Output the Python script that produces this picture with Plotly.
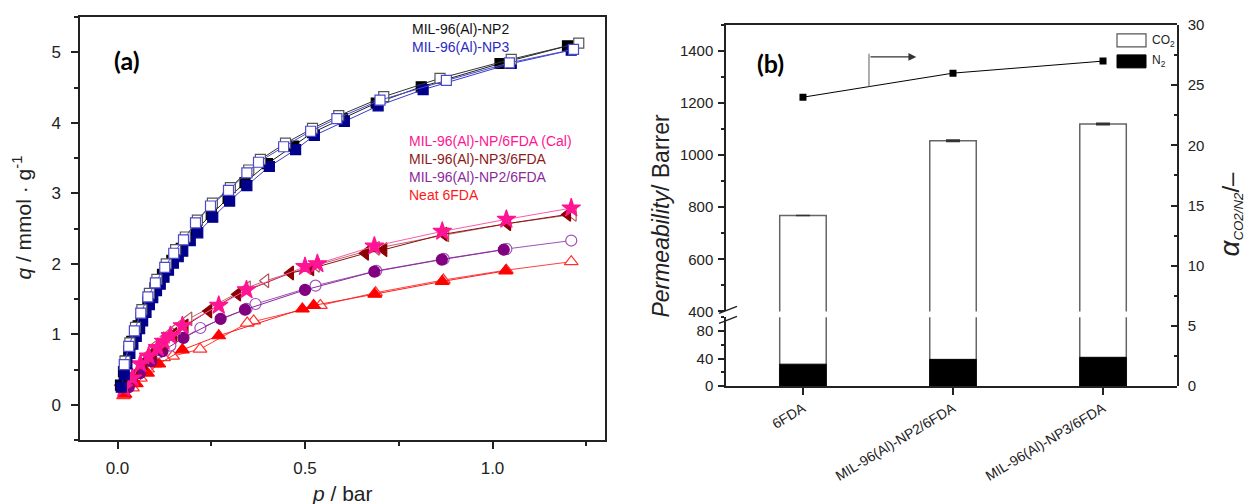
import plotly.graph_objects as go

# ---------------- (a) CO2 sorption isotherms ----------------
np2_ads_p = [0.008, 0.016, 0.022, 0.03, 0.038, 0.046, 0.055, 0.063, 0.072, 0.081, 0.09, 0.1, 0.11, 0.12,
             0.132, 0.145, 0.158, 0.17, 0.19, 0.21, 0.25, 0.295, 0.34, 0.40, 0.47, 0.52, 0.60, 0.69, 0.81, 1.02, 1.2]
np2_ads_q = [0.28, 0.47, 0.62, 0.77, 0.9, 1.01, 1.12, 1.23, 1.35, 1.46, 1.56, 1.66, 1.75, 1.85,
             1.95, 2.05, 2.14, 2.22, 2.37, 2.48, 2.7, 2.93, 3.15, 3.42, 3.67, 3.86, 4.06, 4.28, 4.51, 4.84, 5.09]
np2_des_p = [1.23, 1.05, 0.86, 0.71, 0.59, 0.52, 0.448, 0.381, 0.35, 0.301, 0.253, 0.213, 0.181, 0.155,
             0.13, 0.105, 0.085, 0.065, 0.048, 0.033, 0.02]
np2_des_q = [5.13, 4.9, 4.63, 4.37, 4.1, 3.92, 3.71, 3.48, 3.33, 3.08, 2.86, 2.62, 2.38, 2.2,
             2.0, 1.78, 1.58, 1.35, 1.1, 0.88, 0.62]

np3_ads_p = [0.01, 0.018, 0.025, 0.033, 0.041, 0.05, 0.059, 0.067, 0.076, 0.085, 0.094, 0.104, 0.114, 0.124,
             0.136, 0.149, 0.162, 0.174, 0.194, 0.214, 0.254, 0.299, 0.345, 0.405, 0.475, 0.525, 0.605, 0.695, 0.815, 1.05, 1.21]
np3_ads_q = [0.25, 0.43, 0.58, 0.73, 0.86, 0.97, 1.08, 1.19, 1.31, 1.42, 1.52, 1.62, 1.71, 1.81,
             1.91, 2.01, 2.1, 2.18, 2.33, 2.44, 2.66, 2.89, 3.11, 3.38, 3.62, 3.82, 4.02, 4.24, 4.47, 4.84, 5.03]
np3_des_p = [1.216, 1.045, 0.877, 0.70, 0.585, 0.515, 0.443, 0.376, 0.345, 0.296, 0.248, 0.208, 0.176, 0.15,
             0.126, 0.101, 0.081, 0.062, 0.045, 0.03, 0.018]
np3_des_q = [5.04, 4.85, 4.6, 4.32, 4.06, 3.88, 3.66, 3.44, 3.29, 3.04, 2.82, 2.58, 2.34, 2.15,
             1.95, 1.73, 1.53, 1.3, 1.05, 0.83, 0.57]

cal_p = [0.016, 0.04, 0.061, 0.083, 0.107, 0.123, 0.141, 0.173, 0.27, 0.344, 0.50, 0.533, 0.685, 0.866, 1.037, 1.21]
cal_q = [0.24, 0.38, 0.58, 0.69, 0.81, 0.9, 0.98, 1.12, 1.41, 1.63, 1.96, 2.0, 2.25, 2.46, 2.63, 2.79]

np3mmm_ads_p = [0.02, 0.045, 0.07, 0.095, 0.12, 0.15, 0.18, 0.243, 0.32, 0.461, 0.515, 0.661, 0.71, 0.87, 1.04, 1.2]
np3mmm_ads_q = [0.26, 0.43, 0.6, 0.74, 0.87, 1.0, 1.12, 1.33, 1.57, 1.87, 1.93, 2.15, 2.2, 2.42, 2.57, 2.7]
np3mmm_des_p = [1.215, 1.04, 0.875, 0.69, 0.53, 0.395, 0.346, 0.19, 0.16, 0.13, 0.1, 0.075]
np3mmm_des_q = [2.7, 2.57, 2.41, 2.22, 1.98, 1.76, 1.66, 1.22, 1.1, 0.97, 0.83, 0.68]

np2mmm_ads_p = [0.03, 0.06, 0.09, 0.12, 0.176, 0.275, 0.34, 0.50, 0.685, 0.865, 1.03]
np2mmm_ads_q = [0.25, 0.45, 0.62, 0.76, 0.95, 1.22, 1.35, 1.63, 1.89, 2.06, 2.2]
np2mmm_des_p = [1.21, 1.037, 0.87, 0.69, 0.528, 0.368, 0.344, 0.221, 0.141, 0.11, 0.08]
np2mmm_des_q = [2.33, 2.21, 2.07, 1.9, 1.69, 1.43, 1.36, 1.09, 0.84, 0.74, 0.62]

neat_ads_p = [0.02, 0.05, 0.08, 0.11, 0.173, 0.27, 0.493, 0.523, 0.686, 0.866, 1.035]
neat_ads_q = [0.15, 0.3, 0.45, 0.58, 0.78, 0.98, 1.36, 1.41, 1.57, 1.75, 1.9]
neat_des_p = [1.21, 1.037, 0.869, 0.688, 0.541, 0.363, 0.346, 0.22, 0.147, 0.123, 0.1, 0.08, 0.061, 0.04, 0.016]
neat_des_q = [2.03, 1.91, 1.77, 1.59, 1.41, 1.19, 1.16, 0.79, 0.69, 0.67, 0.58, 0.51, 0.38, 0.24, 0.13]

# ---------------- (b) single-gas permeation ----------------
membranes = ["6FDA", "MIL-96(Al)-NP2/6FDA", "MIL-96(Al)-NP3/6FDA"]
co2_perm = [768, 1055, 1120]
co2_err = [0, 3, 3]
n2_perm = [32, 39, 42]
selectivity = [24, 26, 27]

# broken permeability axis: lower and upper segments
lower_range = [0, 100]
upper_range = [400, 1500]

FONT = "Liberation Sans, Arial, sans-serif"
W, H = 1251, 504
# the drawing area is laid out in page pixels; vertical placement uses the
# space actually given to the graph (top offset and usable height)
TOP, USABLE_H = 8, 488


def px(x):
    return x / W


def py(y):
    return 1 - (y - TOP) / USABLE_H


fig = go.Figure()


def iso(p, q, symbol, fill, edge, line, size=10, lw=1.0):
    fig.add_trace(go.Scatter(
        x=p, y=q, mode="lines+markers", xaxis="x", yaxis="y",
        line=dict(color=line, width=lw),
        marker=dict(symbol=symbol, size=size, color=fill, line=dict(color=edge, width=1.2)),
        hoverinfo="skip", showlegend=False))


# 6FDA-based membranes
iso(neat_des_p, neat_des_q, "triangle-up", "white", "#FF3030", "#FF4040", 12)
iso(neat_ads_p, neat_ads_q, "triangle-up", "#FF0000", "#FF0000", "#FF2020", 12)
iso(np2mmm_des_p, np2mmm_des_q, "circle", "white", "#A050B8", "#A050B8", 11)
iso(np2mmm_ads_p, np2mmm_ads_q, "circle", "#800080", "#800080", "#8B2B9B", 11)
iso(np3mmm_des_p, np3mmm_des_q, "triangle-left", "white", "#B05A5A", "#B86A6A", 12)
iso(np3mmm_ads_p, np3mmm_ads_q, "triangle-left", "#8B0000", "#8B0000", "#8B1010", 12)
iso(cal_p, cal_q, "star", "#FF1493", "#FF1493", "#FF5AAA", 14)
# MIL-96(Al) particles
iso(np2_ads_p, np2_ads_q, "square", "#000000", "#000000", "#222222", 10)
iso(np3_ads_p, np3_ads_q, "square", "#00008B", "#00008B", "#3A3ACC", 10)
iso(np2_des_p, np2_des_q, "square", "white", "#555555", "#333333", 10)
iso(np3_des_p, np3_des_q, "square", "white", "#4A4AD0", "#4A4AD0", 10)

# ---------------- (b) traces ----------------
bar_w = 0.31
# CO2 bars: upper segment of the broken axis
fig.add_trace(go.Bar(
    x=membranes, y=co2_perm, xaxis="x3", yaxis="y3", width=bar_w,
    marker=dict(color="white", line=dict(color="#666666", width=1.5)),
    error_y=dict(type="data", array=co2_err, color="#333333", thickness=1.5, width=7),
    hoverinfo="skip", showlegend=False))
# CO2 bars: lower segment, cut a little above the top of the lower axis
co2_lower = [min(v, 1.5 * lower_range[1]) for v in co2_perm]
fig.add_trace(go.Bar(
    x=membranes, y=co2_lower, xaxis="x2", yaxis="y2", width=bar_w,
    marker=dict(color="white", line=dict(color="#666666", width=1.5)),
    hoverinfo="skip", showlegend=False))
# N2 bars
fig.add_trace(go.Bar(
    x=membranes, y=n2_perm, xaxis="x2", yaxis="y2", width=bar_w,
    marker=dict(color="black", line=dict(color="black", width=1.0)),
    hoverinfo="skip", showlegend=False))
# CO2/N2 ideal selectivity
fig.add_trace(go.Scatter(
    x=membranes, y=selectivity, xaxis="x2", yaxis="y4", mode="lines+markers",
    line=dict(color="black", width=1),
    marker=dict(symbol="square", size=7, color="black"),
    hoverinfo="skip", showlegend=False))

axcol = "#222222"
tickfont_a = dict(family=FONT, size=17, color="#222")
tickfont_b = dict(family=FONT, size=15, color="#222")

xa_dom = [px(80), px(605)]
xb_dom = [px(726), px(1177)]
xb_range = [-0.513, 2.493]

fig.update_layout(
    width=W, height=H, margin=dict(l=0, r=0, t=0, b=0),
    paper_bgcolor="white", plot_bgcolor="rgba(0,0,0,0)",
    showlegend=False, barmode="overlay",
    font=dict(family=FONT, color="#222"),
    xaxis=dict(domain=xa_dom, anchor="y", range=[-0.1, 1.3],
               tickvals=[0, 0.5, 1.0], ticktext=["0.0", "0.5", "1.0"],
               ticks="outside", ticklen=7, tickwidth=1.5, tickcolor=axcol,
               minor=dict(ticks="outside", ticklen=4, dtick=0.25, tick0=0, tickcolor=axcol, showgrid=False),
               showline=True, linecolor=axcol, linewidth=1.5, mirror=True,
               showgrid=False, zeroline=False, tickfont=tickfont_a, ticklabelstandoff=5),
    yaxis=dict(domain=[py(440), py(16)], anchor="x", range=[-0.5, 5.5], dtick=1, tick0=0,
               ticks="outside", ticklen=7, tickwidth=1.5, tickcolor=axcol,
               minor=dict(ticks="outside", ticklen=4, dtick=0.5, tick0=0, tickcolor=axcol, showgrid=False),
               showline=True, linecolor=axcol, linewidth=1.5, mirror=True,
               showgrid=False, zeroline=False, tickfont=tickfont_a, ticklabelstandoff=7),
    xaxis2=dict(domain=xb_dom, anchor="y2", range=xb_range, type="category",
                ticks="outside", ticklen=7, tickwidth=1.5, tickcolor=axcol, tickangle=-31,
                showline=True, linecolor=axcol, linewidth=1.5, showgrid=False, zeroline=False,
                tickfont=dict(family=FONT, size=14, color="#222")),
    xaxis3=dict(domain=xb_dom, anchor="y3", range=xb_range, type="category", side="top",
                showticklabels=False, ticks="", showline=True, linecolor=axcol, linewidth=1.5,
                showgrid=False, zeroline=False),
    yaxis2=dict(domain=[py(386), py(317)], anchor="x2", range=lower_range, tickvals=[0, 40, 80],
                ticks="outside", ticklen=6, tickwidth=1.5, tickcolor=axcol,
                minor=dict(ticks="outside", ticklen=3, dtick=20, tick0=0, tickcolor=axcol, showgrid=False),
                showline=True, linecolor=axcol, linewidth=1.5, showgrid=False, zeroline=False,
                tickfont=tickfont_b, ticklabelstandoff=2),
    yaxis3=dict(domain=[py(311), py(24)], anchor="x3", range=upper_range,
                tickvals=[400, 600, 800, 1000, 1200, 1400],
                ticks="outside", ticklen=6, tickwidth=1.5, tickcolor=axcol,
                minor=dict(ticks="outside", ticklen=3, dtick=100, tick0=0, tickcolor=axcol, showgrid=False),
                showline=True, linecolor=axcol, linewidth=1.5, showgrid=False, zeroline=False,
                tickfont=tickfont_b, ticklabelstandoff=2),
    yaxis4=dict(domain=[py(386), py(24)], anchor="x2", side="right", range=[0, 30], dtick=5, tick0=0,
                ticks="inside", ticklen=6, tickwidth=1.5, tickcolor=axcol,
                minor=dict(ticks="inside", ticklen=3, dtick=2.5, tick0=0, tickcolor=axcol, showgrid=False),
                showline=True, linecolor=axcol, linewidth=1.5, showgrid=False, zeroline=False,
                tickfont=tickfont_b, ticklabelstandoff=6),
)

ann = []


def label(x, y, text, size=14, color="#222", xanchor="left", **kw):
    ann.append(dict(x=px(x), y=py(y), xref="paper", yref="paper", text=text, showarrow=False,
                    xanchor=xanchor, yanchor="middle", font=dict(family=kw.pop("family", FONT), size=size, color=color), **kw))


# panel tags
label(127, 59, "<b>(a)</b>", 25, "#000", "center", family="Lato, Open Sans, sans-serif")
label(770, 62, "<b>(b)</b>", 25, "#000", "center", family="Lato, Open Sans, sans-serif")

# series names in (a)
label(410, 28, "MIL-96(Al)-NP2", 14, "#111111")
label(410, 46, "MIL-96(Al)-NP3", 14, "#2A2AC0")
label(407, 140, "MIL-96(Al)-NP/6FDA (Cal)", 14, "#FF1493")
label(407, 158, "MIL-96(Al)-NP3/6FDA", 14, "#8B1A1A")
label(407, 176, "MIL-96(Al)-NP2/6FDA", 14, "#8B2A9B")
label(407, 194, "Neat 6FDA", 14, "#FF1A1A")

# axis titles
label(22, 217, "<i>q</i> / mmol · g<sup>-1</sup>", 21, "#222", "center", textangle=-90)
label(342, 493, "<i>p</i> / bar", 21, "#222", "center")
label(661, 215, "<i>Permeability</i>/ Barrer", 23, "#222", "center", textangle=-90)
label(1230, 214,
      "<span style='font-size:28px'><i>α</i></span><sub><i>CO2/N2</i></sub><span style='font-size:24px'>/–</span>",
      19, "#222", "center", textangle=-90)

# legend of (b)
label(1150, 40, "CO<sub>2</sub>", 12, "#222")
label(1150, 60, "N<sub>2</sub>", 12, "#222")

# arrow pointing to the selectivity axis
ann.append(dict(x=0.755, y=27.35, xref="x2", yref="y4", ax=0.44, ay=27.35, axref="x2", ayref="y4",
                text="", showarrow=True, arrowhead=2, arrowsize=1.3, arrowwidth=1.2, arrowcolor="#333"))
fig.update_layout(annotations=ann)

shapes = [
    # vertical stem of the arrow, down to the selectivity line
    dict(type="line", xref="x2", yref="y4", x0=0.44, x1=0.44, y0=27.6, y1=24.9,
         line=dict(color="#777777", width=1.2)),
    # legend boxes
    dict(type="rect", xref="paper", yref="paper", x0=px(1117), x1=px(1146), y0=py(46), y1=py(33),
         fillcolor="white", line=dict(color="#555555", width=1.2)),
    dict(type="rect", xref="paper", yref="paper", x0=px(1117), x1=px(1146), y0=py(67), y1=py(54),
         fillcolor="black", line=dict(color="black", width=1)),
    # axis-break marks
    dict(type="line", xref="paper", yref="paper", x0=px(719), x1=px(737), y0=py(313), y1=py(306),
         line=dict(color=axcol, width=1.5)),
    dict(type="line", xref="paper", yref="paper", x0=px(719), x1=px(737), y0=py(323), y1=py(316),
         line=dict(color=axcol, width=1.5)),
]
fig.update_layout(shapes=shapes)

fig.write_html("out.html")
